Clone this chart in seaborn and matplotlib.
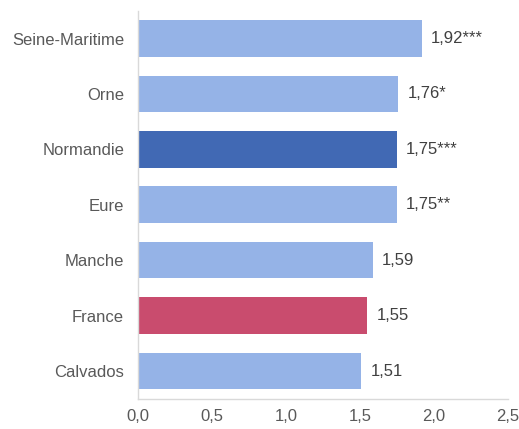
import matplotlib
matplotlib.use("Agg")
import matplotlib.pyplot as plt
import seaborn as sns
import pandas as pd

categories = ["Seine-Maritime", "Orne", "Normandie", "Eure", "Manche", "France", "Calvados"]
values = [1.92, 1.76, 1.75, 1.75, 1.59, 1.55, 1.51]
labels = ["1,92***", "1,76*", "1,75***", "1,75**", "1,59", "1,55", "1,51"]
colors = ["#95B3E7", "#95B3E7", "#4169B4", "#95B3E7", "#95B3E7", "#C94C6E", "#95B3E7"]
xticks = [0.0, 0.5, 1.0, 1.5, 2.0, 2.5]
xticklabels = ["0,0", "0,5", "1,0", "1,5", "2,0", "2,5"]

sns.set_theme(style="white")
plt.rcParams["font.family"] = ["Liberation Sans", "DejaVu Sans"]

df = pd.DataFrame({"cat": categories, "val": values})
fig = plt.figure(figsize=(5.19, 4.29), dpi=100)
ax = fig.add_axes([0.2659, 0.0706, 0.9788 - 0.2659, 0.9748 - 0.0706])
sns.barplot(data=df, x="val", y="cat", hue="cat", palette=colors, legend=False,
            width=0.66, ax=ax, saturation=1, linewidth=0)
for i, (v, lab) in enumerate(zip(values, labels)):
    ax.text(v + 0.06, i, lab, va="center", ha="left", fontsize=12, color="#404040")
ax.set_xlim(0, 2.5)
ax.set_ylim(6.5, -0.5)
ax.set_xticks(xticks)
ax.set_xticklabels(xticklabels)
ax.set_xlabel("")
ax.set_ylabel("")
ax.tick_params(axis="both", length=0, labelsize=12, labelcolor="#595959")
ax.tick_params(axis="y", pad=10)
ax.tick_params(axis="x", pad=7.5)
for s in ["top", "right"]:
    ax.spines[s].set_visible(False)
for s in ["left", "bottom"]:
    ax.spines[s].set_color("#D9D9D9")
    ax.spines[s].set_linewidth(1)
fig.savefig("out.png", dpi=100)
